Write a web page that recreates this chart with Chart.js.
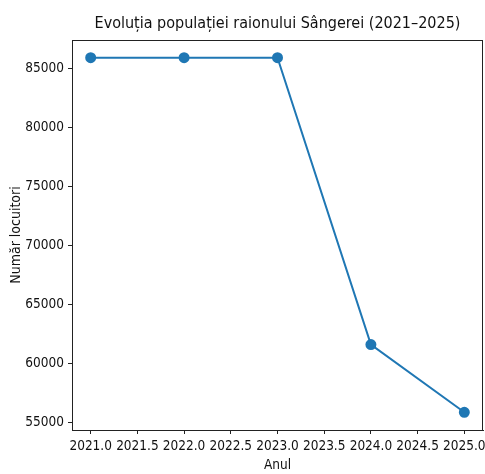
<!DOCTYPE html>
<html>
<head>
<meta charset="utf-8">
<script src="https://cdn.jsdelivr.net/npm/chart.js@4"></script>
<style>
  body { margin: 0; background: #fff; }
  #wrap { width: 485px; height: 474px; }
  canvas { display: block; }
</style>
</head>
<body>
<div id="wrap"><canvas id="myChart" width="485" height="474"></canvas></div>
<script>
// date
var years = [2021, 2022, 2023, 2024, 2025];
var population = [85930, 85930, 85930, 61610, 55870];
var xTicks = [2021.0, 2021.5, 2022.0, 2022.5, 2023.0, 2023.5, 2024.0, 2024.5, 2025.0];
var yTicks = [55000, 60000, 65000, 70000, 75000, 80000, 85000];

var font = "'DejaVu Sans Condensed', 'DejaVu Sans', sans-serif";
var blue = '#1f77b4';

// rama in jurul zonei de desen (ca in matplotlib)
var frame = {
    id: 'frame',
    afterDraw: function (chart) {
        var a = chart.chartArea, c = chart.ctx;
        c.save();
        c.strokeStyle = '#222';
        c.lineWidth = 1;
        c.strokeRect(a.left + 0.5, a.top + 0.5, a.right - a.left - 1, a.bottom - a.top);
        c.restore();
    }
};

// eticheta "2025.0" poate iesi putin din canvas, ca in original
function noPadding(scale) {
    scale.paddingLeft = scale.paddingRight = 0;
    scale.paddingTop = scale.paddingBottom = 0;
}

var ctx = document.getElementById("myChart");
new Chart(ctx, {
    type: 'line',
    data: {
        datasets: [{
            data: years.map(function (y, i) { return {x: y, y: population[i]}; }),
            borderColor: blue,
            backgroundColor: blue,
            pointBackgroundColor: blue,
            pointBorderColor: blue,
            pointRadius: 4.5,
            borderWidth: 2,
            fill: false,
            tension: 0
        }]
    },
    options: {
        responsive: false,
        animation: false,
        layout: {autoPadding: false, padding: {top: 0, right: 2, bottom: 0, left: 0}},
        plugins: {
            legend: {display: false},
            tooltip: {enabled: false},
            title: {
                display: true,
                fullSize: false,
                text: 'Evoluția populației raionului Sângerei (2021–2025)',
                color: '#111',
                font: {family: font, size: 16, weight: 'normal'},
                padding: {top: 14, bottom: 6.8}
            }
        },
        scales: {
            x: {
                type: 'linear',
                min: 2020.8,
                max: 2025.2,
                afterBuildTicks: function (axis) {
                    axis.ticks = xTicks.map(function (v) { return {value: v}; });
                },
                afterFit: function (scale) {
                    scale.height = 44;
                    noPadding(scale);
                },
                ticks: {
                    color: '#111',
                    font: {family: font, size: 13.5},
                    maxRotation: 0,
                    autoSkip: false,
                    padding: 4,
                    callback: function (v) { return Number(v).toFixed(1); }
                },
                grid: {drawOnChartArea: false, drawTicks: true, tickLength: 4, color: '#222'},
                border: {display: true, color: '#222'},
                title: {
                    display: true,
                    text: 'Anul',
                    color: '#111',
                    font: {family: font, size: 13.5},
                    padding: {top: 0, bottom: 0}
                }
            },
            y: {
                type: 'linear',
                min: 54367,
                max: 87433,
                afterBuildTicks: function (axis) {
                    axis.ticks = yTicks.map(function (v) { return {value: v}; });
                },
                afterFit: function (scale) {
                    scale.width = 72;
                    noPadding(scale);
                },
                ticks: {
                    color: '#111',
                    font: {family: font, size: 13.5},
                    padding: 4,
                    callback: function (v) { return String(v); }
                },
                grid: {drawOnChartArea: false, drawTicks: true, tickLength: 4, color: '#222'},
                border: {display: true, color: '#222'},
                title: {
                    display: true,
                    text: 'Număr locuitori',
                    color: '#111',
                    font: {family: font, size: 14},
                    padding: {top: 8, bottom: 0}
                }
            }
        }
    },
    plugins: [frame]
});
</script>
</body>
</html>
